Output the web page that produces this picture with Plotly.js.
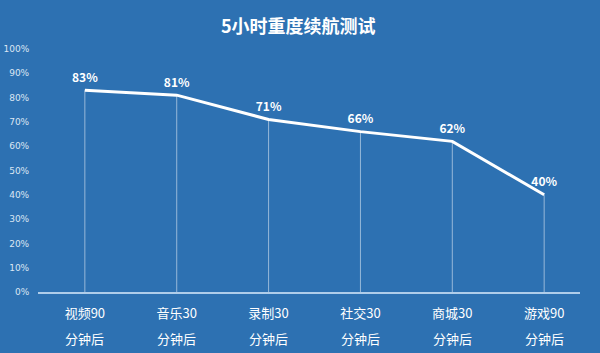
<!DOCTYPE html>
<html>
<head>
<meta charset="utf-8">
<script src="https://cdn.plot.ly/plotly-3.0.1.min.js"></script>
<style>html,body{margin:0;padding:0;background:#2d71b2;}#chart{width:600px;height:353px;}</style>
</head>
<body>
<div id="chart"></div>
<script>
const categoriesTop = ['视频90', '音乐30', '录制30', '社交30', '商城30', '游戏90'];
const categoriesBottom = ['分钟后', '分钟后', '分钟后', '分钟后', '分钟后', '分钟后'];
const batteryLeft = [0.83, 0.81, 0.71, 0.66, 0.62, 0.40];
const valueLabels = ['83%', '81%', '71%', '66%', '62%', '40%'];
const yTickVals = [0, 0.1, 0.2, 0.3, 0.4, 0.5, 0.6, 0.7, 0.8, 0.9, 1.0];
const yTickText = ['0%', '10%', '20%', '30%', '40%', '50%', '60%', '70%', '80%', '90%', '100%'];

const xIdx = categoriesTop.map((_, i) => i);
const cjk = '"Noto Sans CJK SC", "Noto Sans", sans-serif';

const traces = [{
  type: 'scatter',
  mode: 'lines+markers+text',
  x: xIdx,
  y: batteryLeft,
  text: valueLabels,
  textposition: 'top center',
  textfont: {family: cjk, size: 12, color: '#ffffff', weight: 'bold'},
  line: {color: '#ffffff', width: 3},
  marker: {size: 7, color: 'rgba(0,0,0,0)'},
  error_y: {
    type: 'data', symmetric: false,
    array: batteryLeft.map(() => 0),
    arrayminus: batteryLeft,
    color: 'rgba(255,255,255,0.5)', thickness: 1, width: 0
  },
  hoverinfo: 'skip',
  cliponaxis: false
}];

const annotations = categoriesBottom.map((t, i) => ({
  x: i, xref: 'x', y: 0, yref: 'paper',
  yanchor: 'top', yshift: -35,
  text: t, showarrow: false,
  font: {family: cjk, size: 13, color: '#ffffff'}
}));

const layout = {
  width: 600, height: 353,
  paper_bgcolor: '#2d71b2',
  plot_bgcolor: '#2d71b2',
  margin: {l: 38, r: 20, t: 49, b: 61},
  showlegend: false,
  title: {
    text: '<b>5小时重度续航测试</b>',
    font: {family: cjk, size: 18, color: '#ffffff'},
    x: 0.497, xanchor: 'center', y: 0.925, yanchor: 'middle'
  },
  xaxis: {
    range: [-0.51, 5.39],
    tickvals: xIdx, ticktext: categoriesTop,
    showgrid: false, zeroline: false,
    showline: true, linecolor: 'rgba(190,215,240,0.9)', linewidth: 2,
    ticks: 'outside', ticklen: 8, tickcolor: 'rgba(0,0,0,0)',
    tickfont: {family: cjk, size: 13, color: '#ffffff'},
    fixedrange: true
  },
  yaxis: {
    range: [0, 1.0],
    tickvals: yTickVals, ticktext: yTickText,
    showgrid: false, zeroline: false, showline: false,
    ticks: 'outside', ticklen: 6, tickcolor: 'rgba(0,0,0,0)',
    tickfont: {family: '"DejaVu Sans", sans-serif', size: 9, color: '#dbe6f3'},
    fixedrange: true
  },
  annotations: annotations
};

Plotly.newPlot('chart', traces, layout, {displayModeBar: false, staticPlot: true});
</script>
</body>
</html>
